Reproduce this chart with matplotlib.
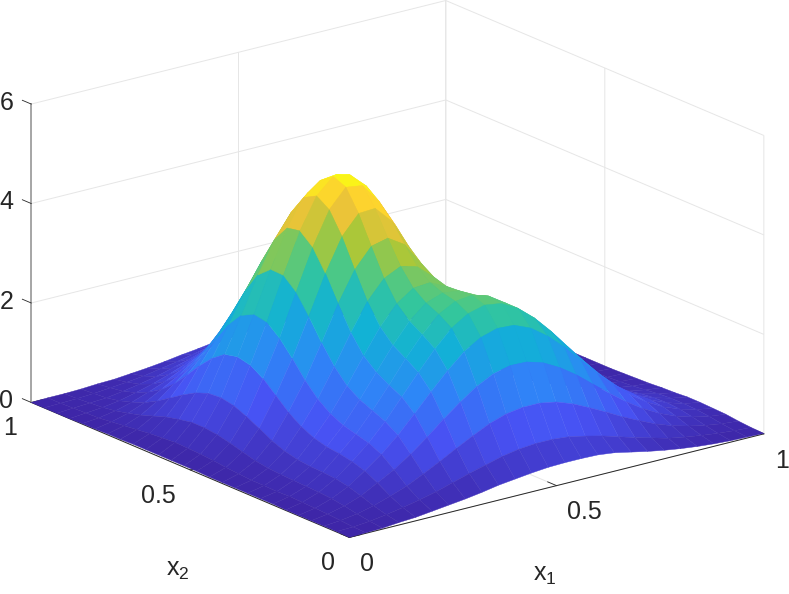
import numpy as np
import matplotlib
matplotlib.use("Agg")
import matplotlib.pyplot as plt
from matplotlib.colors import LinearSegmentedColormap

plt.rcParams['font.family'] = ['Liberation Sans', 'DejaVu Sans']
plt.rcParams['mathtext.fontset'] = 'custom'
plt.rcParams['mathtext.rm'] = 'Liberation Sans'

x1 = np.linspace(0, 1, 26)
x2 = np.linspace(0, 1, 26)

# heights, one row per x2 value (x1 goes left to right)
z_rows = [
    [0,.01,.02,.05,.07,.11,.15,.19,.24,.30,.34,.38,.41,.42,.42,.41,.37,.30,.23,.17,.12,.08,.05,.03,.02,.01],
    [.01,.02,.05,.10,.16,.23,.31,.41,.51,.60,.69,.75,.78,.78,.75,.68,.60,.50,.40,.31,.22,.16,.11,.07,.04,.02],
    [.01,.04,.09,.17,.28,.40,.56,.73,.91,1.08,1.24,1.35,1.40,1.40,1.34,1.22,1.06,.89,.71,.55,.40,.28,.19,.12,.07,.04],
    [.01,.06,.14,.26,.44,.62,.85,1.11,1.39,1.65,1.88,2.05,2.13,2.12,2.02,1.84,1.61,1.34,1.07,.82,.60,.42,.28,.18,.11,.07],
    [.01,.07,.18,.34,.57,.82,1.12,1.47,1.83,2.17,2.47,2.67,2.77,2.75,2.61,2.37,2.07,1.72,1.37,1.05,.77,.54,.36,.23,.14,.08],
    [.01,.08,.20,.39,.65,.94,1.29,1.70,2.11,2.50,2.83,3.04,3.13,3.08,2.90,2.62,2.27,1.88,1.50,1.14,.83,.59,.39,.25,.15,.09],
    [.02,.09,.21,.41,.70,1.01,1.40,1.83,2.28,2.68,3.00,3.18,3.22,3.12,2.90,2.59,2.22,1.83,1.45,1.10,.80,.56,.37,.24,.15,.09],
    [.02,.08,.22,.42,.73,1.08,1.51,1.98,2.44,2.84,3.12,3.24,3.20,3.03,2.74,2.39,2.01,1.63,1.29,.97,.70,.49,.32,.21,.13,.07],
    [.02,.09,.23,.45,.80,1.20,1.68,2.20,2.70,3.08,3.31,3.34,3.18,2.89,2.52,2.11,1.73,1.38,1.06,.79,.57,.39,.26,.16,.10,.06],
    [.02,.09,.25,.51,.92,1.39,1.96,2.56,3.10,3.48,3.64,3.55,3.26,2.82,2.34,1.89,1.48,1.14,.85,.62,.44,.30,.19,.12,.07,.04],
    [.02,.11,.29,.61,1.10,1.66,2.33,3.03,3.63,4.02,4.10,3.89,3.43,2.85,2.28,1.78,1.34,.98,.70,.48,.33,.22,.14,.08,.05,.03],
    [.02,.13,.36,.75,1.33,1.99,2.75,3.53,4.19,4.57,4.59,4.25,3.67,3.02,2.39,1.80,1.31,.92,.62,.41,.26,.16,.10,.06,.03,.02],
    [.03,.16,.43,.88,1.56,2.29,3.13,3.95,4.62,4.99,4.94,4.54,3.97,3.30,2.60,1.96,1.41,.97,.64,.40,.25,.15,.08,.05,.03,.01],
    [.03,.18,.49,.99,1.72,2.50,3.36,4.17,4.79,5.10,5.05,4.74,4.22,3.57,2.87,2.18,1.58,1.09,.72,.45,.26,.15,.08,.04,.02,.01],
    [.03,.19,.52,1.04,1.78,2.55,3.37,4.12,4.65,4.91,4.95,4.77,4.35,3.77,3.09,2.41,1.78,1.25,.83,.53,.31,.18,.10,.05,.02,.01],
    [.03,.20,.52,1.02,1.72,2.42,3.15,3.78,4.24,4.55,4.68,4.59,4.31,3.83,3.23,2.58,1.96,1.40,.95,.61,.38,.22,.12,.06,.03,.01],
    [.03,.18,.47,.92,1.53,2.12,2.72,3.24,3.70,4.05,4.23,4.23,4.05,3.70,3.20,2.63,2.04,1.51,1.05,.70,.44,.26,.15,.08,.04,.02],
    [.03,.16,.41,.77,1.27,1.72,2.19,2.66,3.10,3.45,3.67,3.74,3.65,3.40,3.03,2.55,2.04,1.55,1.11,.76,.49,.30,.17,.10,.05,.02],
    [.02,.13,.32,.60,.97,1.31,1.69,2.10,2.48,2.82,3.05,3.17,3.15,2.99,2.72,2.36,1.94,1.51,1.12,.79,.52,.33,.20,.11,.06,.03],
    [.02,.10,.23,.43,.69,.95,1.25,1.58,1.91,2.20,2.43,2.57,2.60,2.51,2.33,2.06,1.75,1.40,1.07,.77,.52,.34,.21,.12,.07,.03],
    [.01,.07,.16,.29,.47,.66,.89,1.14,1.40,1.64,1.85,1.99,2.05,2.02,1.91,1.72,1.49,1.23,.96,.71,.50,.33,.21,.13,.07,.04],
    [.01,.04,.10,.19,.31,.44,.60,.79,.98,1.18,1.35,1.48,1.55,1.56,1.50,1.38,1.22,1.02,.82,.62,.45,.31,.20,.12,.07,.04],
    [0,.03,.06,.11,.19,.28,.39,.52,.66,.81,.94,1.05,1.12,1.15,1.12,1.06,.94,.81,.66,.52,.39,.27,.18,.11,.07,.04],
    [0,.02,.04,.06,.11,.17,.24,.33,.42,.53,.63,.71,.78,.81,.81,.77,.70,.61,.51,.41,.32,.23,.15,.10,.06,.04],
    [0,.01,.02,.04,.07,.10,.14,.20,.26,.33,.40,.46,.51,.55,.55,.54,.50,.45,.38,.31,.24,.18,.13,.09,.05,.03],
    [0,.01,.01,.02,.04,.05,.08,.11,.15,.20,.24,.29,.33,.35,.37,.36,.34,.31,.27,.22,.18,.14,.10,.07,.04,.03],
]

x_ticks = [0, 0.5, 1]
x_ticklabels = ['0', '0.5', '1']
z_ticks = [0, 2, 4, 6]

parula = LinearSegmentedColormap.from_list('parula', [
    (0.2422, 0.1504, 0.6603), (0.2810, 0.3228, 0.9579), (0.1786, 0.5289, 0.9682),
    (0.0689, 0.6948, 0.8394), (0.2161, 0.7843, 0.5923), (0.6720, 0.7793, 0.2227),
    (0.9970, 0.7659, 0.2199), (0.9769, 0.9839, 0.0805)])

Z = np.array(z_rows)
X, Y = np.meshgrid(x1, x2)

fig = plt.figure(figsize=(7.89, 5.94), dpi=100)
side = 780
ax = fig.add_axes([(387 - side / 2) / 789, (594 - 279.5 - side / 2) / 594, side / 789, side / 594],
                  projection='3d', proj_type='ortho')
ax.view_init(elev=19, azim=-127.5)
ax.set_box_aspect((1, 1, 0.604))
ax.patch.set_visible(False)

# facet colour comes from its first corner, as a flat surf does
colors = parula(Z / Z.max())
ax.plot_surface(X, Y, Z, facecolors=colors, rstride=1, cstride=1, shade=False, linewidth=0.3, antialiased=True)

ax.set_xlim(0, 1, view_margin=0)
ax.set_ylim(0, 1, view_margin=0)
ax.set_zlim(0, 6, view_margin=0)
ax.set_xticks(x_ticks, x_ticklabels)
ax.set_yticks(x_ticks, x_ticklabels)
ax.set_zticks(z_ticks, [str(t) for t in z_ticks])

# z ticks run along x2 like the reference
ax.zaxis._get_tickdir = lambda position: 1

for axis in (ax.xaxis, ax.yaxis, ax.zaxis):
    axis.set_pane_color((1, 1, 1, 0))
    axis.pane.set_edgecolor('none')
    axis._axinfo['grid'].update(color='#e6e6e6', linewidth=0.7)
    axis._axinfo['tick'].update(inward_factor=0, outward_factor=0.35, linewidth={True: 0.6, False: 0.6})
    axis.line.set_color('#262626')
    axis.line.set_linewidth(0.7)
ax.zaxis.line.set_color('#a0a0a0')
ax.zaxis.line.set_linewidth(1.3)
ax.tick_params(axis='both', labelsize=18, labelcolor='#262626', color='#262626', pad=2)
plt.setp(ax.get_xticklabels(), ha='left')
plt.setp(ax.get_yticklabels(), ha='right')
plt.setp(ax.get_zticklabels(), ha='center', va='center')

fig.text(545 / 789, 1 - 575 / 594, r'$\mathrm{x}_1$', fontsize=18, color='#262626', ha='center', va='center')
fig.text(178 / 789, 1 - 570 / 594, r'$\mathrm{x}_2$', fontsize=18, color='#262626', ha='center', va='center')

fig.savefig('out.png', dpi=100)
